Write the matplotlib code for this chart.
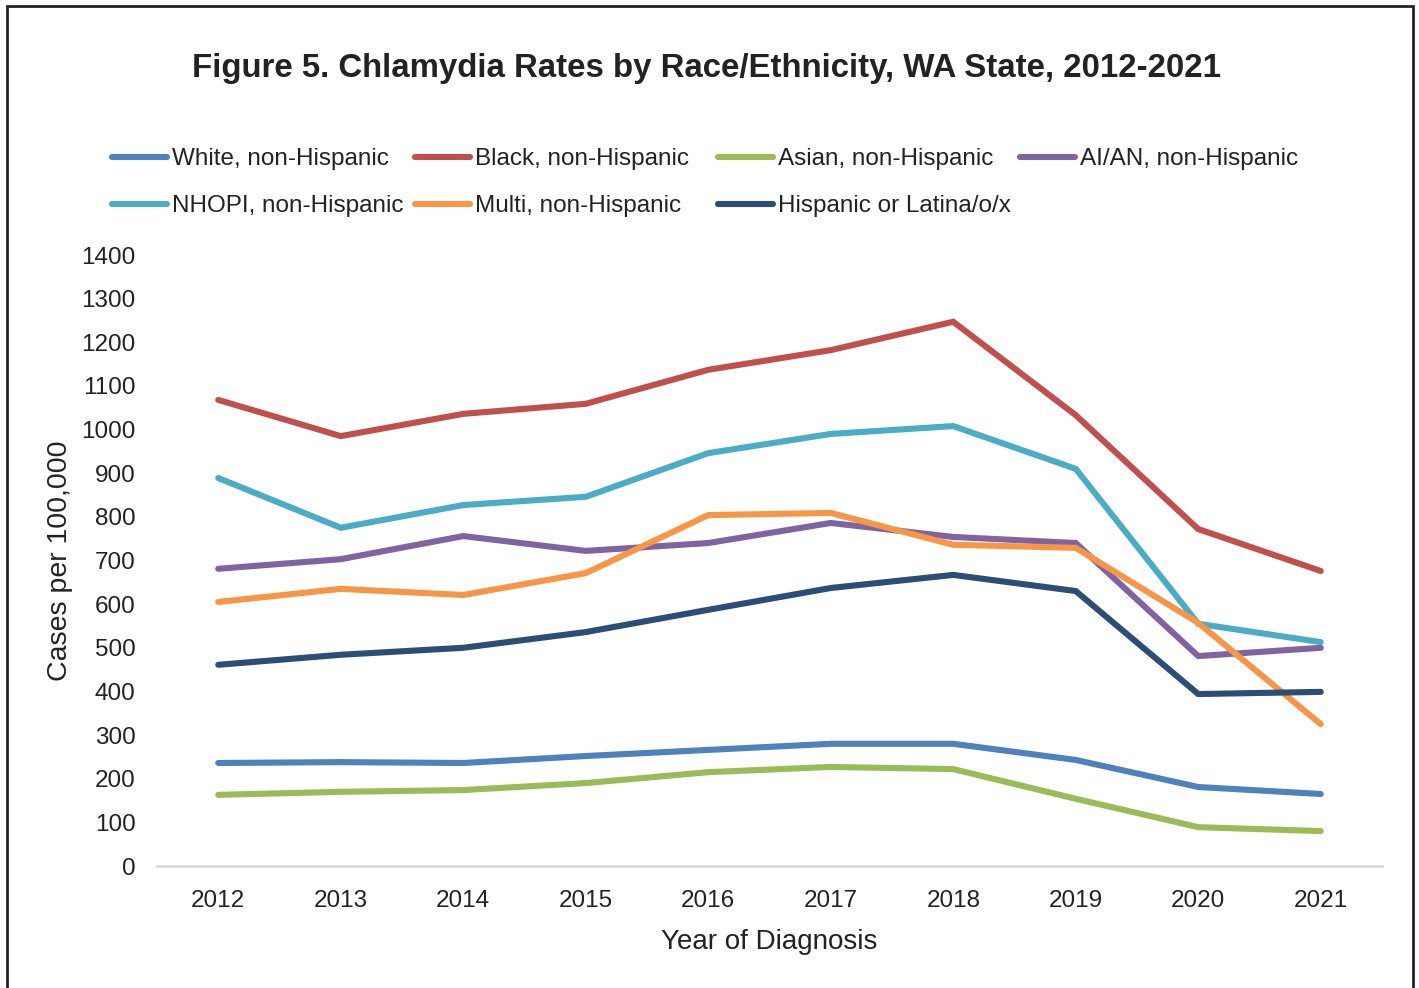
import matplotlib
matplotlib.use("Agg")
import matplotlib.pyplot as plt
from matplotlib.patches import Rectangle

plt.rcParams['font.family'] = ['Liberation Sans', 'DejaVu Sans']

years = ["2012", "2013", "2014", "2015", "2016", "2017", "2018", "2019", "2020", "2021"]
white = [236, 238, 236, 252, 266, 280, 280, 243, 181, 165]
black = [1068, 985, 1036, 1059, 1137, 1182, 1247, 1033, 772, 676]
asian = [163, 170, 174, 190, 215, 227, 222, 154, 89, 80]
aian = [681, 703, 756, 722, 740, 786, 754, 740, 481, 500]
nhopi = [889, 775, 827, 846, 946, 990, 1008, 910, 555, 513]
multi = [605, 635, 621, 671, 804, 809, 736, 729, 557, 325]
hispanic = [461, 484, 500, 536, 587, 637, 667, 630, 394, 399]

labels = ["White, non-Hispanic", "Black, non-Hispanic", "Asian, non-Hispanic",
          "AI/AN, non-Hispanic", "NHOPI, non-Hispanic", "Multi, non-Hispanic",
          "Hispanic or Latina/o/x"]
series = [white, black, asian, aian, nhopi, multi, hispanic]
colors = ["#4F81BD", "#C0504D", "#9BBB59", "#8064A2", "#4BACC6", "#F79646", "#2C4D75"]
yticks = list(range(0, 1401, 100))

W, H = 1419, 988
fig = plt.figure(figsize=(W / 100, H / 100), dpi=100)
ax = fig.add_axes([157 / W, 1 - 866 / H, (1382 - 157) / W, (866 - 255) / H])

x = list(range(len(years)))
handles = []
for vals, lab, col in zip(series, labels, colors):
    ln, = ax.plot(x, vals, color=col, lw=4.4, label=lab,
                  solid_capstyle='round', solid_joinstyle='miter')
    handles.append(ln)

ax.set_xlim(-0.5, len(years) - 0.5)
ax.set_ylim(0, 1400)
ax.set_xticks(x)
ax.set_xticklabels(years, fontsize=17.5, color='#222222')
ax.set_yticks(yticks)
ax.set_yticklabels([str(v) for v in yticks], fontsize=17.5, color='#222222')
ax.tick_params(axis='both', length=0)
ax.tick_params(axis='x', pad=17.5)
ax.tick_params(axis='y', pad=15.5)
for s in ['top', 'right', 'left']:
    ax.spines[s].set_visible(False)
ax.spines['bottom'].set_color('#D9D9D9')
ax.spines['bottom'].set_linewidth(2)

ax.set_xlabel("Year of Diagnosis", fontsize=20, color='#222222', labelpad=12)
ax.set_ylabel("Cases per 100,000", fontsize=20.5, color='#222222', labelpad=5.5)

fig.text(707 / W, 1 - 69 / H,
         "Figure 5. Chlamydia Rates by Race/Ethnicity, WA State, 2012-2021",
         ha='center', va='center', fontsize=23.75, fontweight='bold', color='#222222')

# Legend: four columns, equally spaced like the original
col_x = [112, 415, 718, 1020]
for c in range(4):
    idx = [c] + ([c + 4] if c + 4 < len(handles) else [])
    leg = fig.legend([handles[i] for i in idx], [labels[i] for i in idx],
                     loc='upper left', bbox_to_anchor=(col_x[c] / W, 1 - 148 / H),
                     frameon=False, fontsize=17.5, handlelength=2.25,
                     handletextpad=0.2, borderpad=0, borderaxespad=0,
                     labelspacing=1.04)
    for t in leg.get_texts():
        t.set_color('#222222')

fig.patches.append(Rectangle((7 / W, -0.05), (1413 - 7) / W, 1.05 - 6 / H,
                             transform=fig.transFigure, fill=False,
                             edgecolor='#222222', lw=2))

fig.savefig("out.png", dpi=100)
